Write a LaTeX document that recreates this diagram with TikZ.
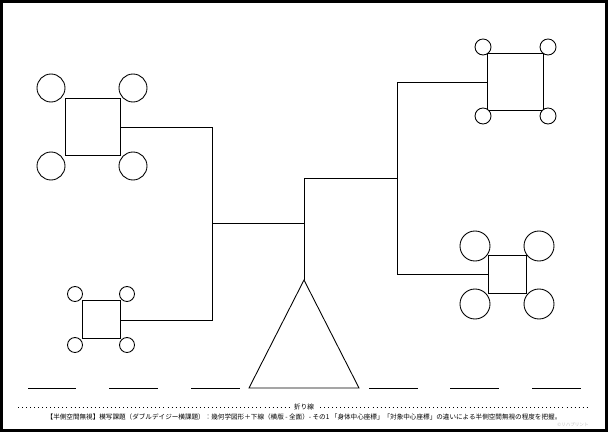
\documentclass[tikz,border=0pt]{standalone}
\usepackage{fontspec}
\newfontfamily\jp{Noto Sans CJK JP}
\begin{document}
\begin{tikzpicture}[x=0.02cm,y=-0.02cm,line width=0.5pt,
 sq/.style={draw,fill=white},
 cir/.style={draw,fill=white,circle,inner sep=0pt,minimum size=#1},
 ul/.style={line width=0.4pt}]
\useasboundingbox (0,0) rectangle (608,432);
\draw[line width=2pt] (1,1) rectangle (607,431);
% connectors
\coordinate (j1) at (212,127); \coordinate (j2) at (212,320);
\coordinate (m1) at (212,223); \coordinate (m2) at (304,223);
\coordinate (t1) at (304,178); \coordinate (t2) at (397,178);
\coordinate (r1) at (397,82); \coordinate (r2) at (397,274);
\draw (120,127) -- (j1) -- (j2) -- (120,320);
\draw (m1) -- (m2);
\draw (304,280) -- (t1) -- (t2);
\draw (487,82) -- (r1) -- (r2) -- (488,274);
% top-left
\node[sq,minimum width=55\pgflinewidth,inner sep=0pt] at (0,0) {};
\draw[fill=white] (65,98) rectangle (120,155);
\foreach \p in {(51,88),(133,88),(51,166),(133,166)} \draw[fill=white] \p circle (14);
% bottom-left
\draw[fill=white] (82,300) rectangle (120,338);
\foreach \p in {(75,294),(127,294),(75,345),(127,345)} \draw[fill=white] \p circle (7.5);
% right top
\draw[fill=white] (487,53) rectangle (543,110);
\foreach \p in {(483,47),(548,47),(483,116),(548,116)} \draw[fill=white] \p circle (8);
% right bottom
\draw[fill=white] (488,255) rectangle (526,293);
\foreach \p in {(475,246),(539,246),(475,304),(539,304)} \draw[fill=white] \p circle (15);
% triangle
\draw (304,280) -- (249,388) -- (359,388) -- cycle;
% underlines
\foreach \a/\b in {28/76,109/158,191/240,369/418,450/499,532/581} \draw[ul] (\a,388) -- (\b,388);
% fold line
\draw[dotted,line width=0.3pt] (18,407) -- (290,407);
\draw[dotted,line width=0.3pt] (320,407) -- (590,407);
\node[font=\jp\fontsize{3.8}{4}\selectfont] (fold) at (304,407) {折り線};
\node[font=\jp\fontsize{3.75}{4}\selectfont] (cap) at (304,417) {【半側空間無視】模写課題（ダブルデイジー横課題）：幾何学図形＋下線（横版 - 全面）- その1 「身体中心座標」「対象中心座標」の違いによる半側空間無視の程度を把握。};
\node[font=\jp\fontsize{2.6}{3}\selectfont,text=black!25] (wm) at (573,425) {©リハプリント};
\end{tikzpicture}
\end{document}
